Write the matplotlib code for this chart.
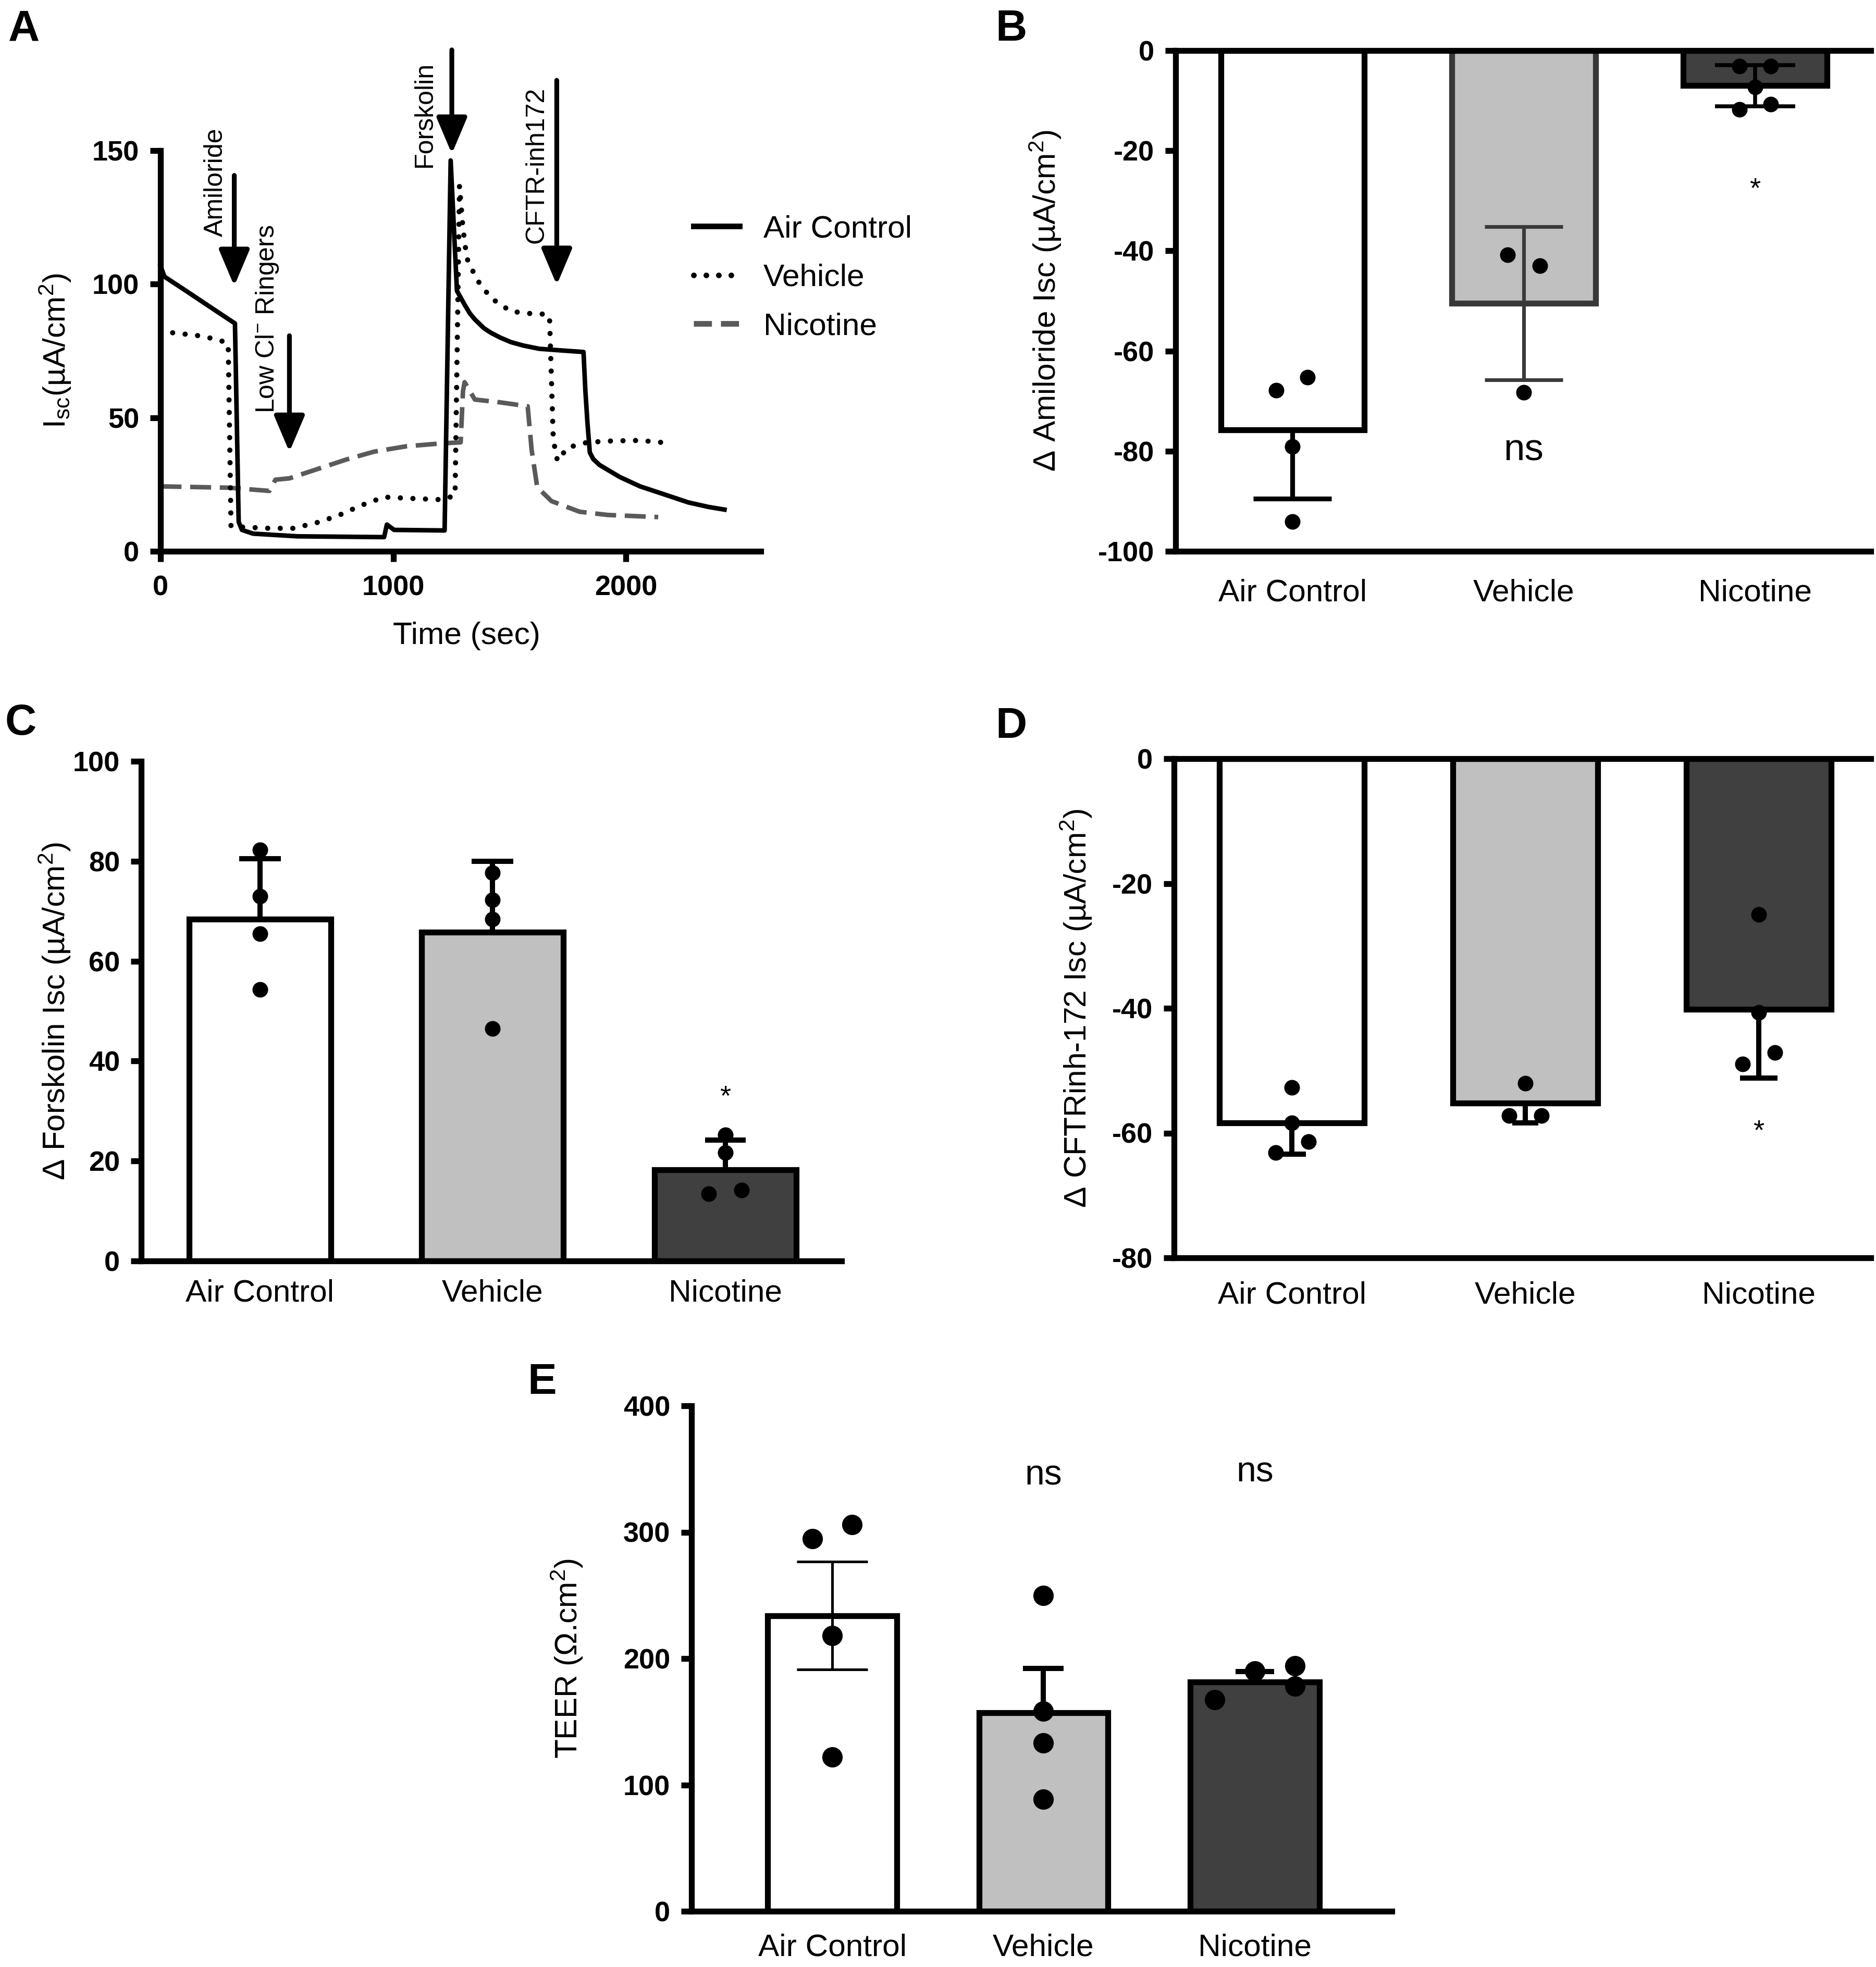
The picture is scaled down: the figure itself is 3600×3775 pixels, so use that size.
import matplotlib
matplotlib.use("Agg")
import matplotlib.pyplot as plt
import numpy as np
from matplotlib.lines import Line2D

plt.rcParams['font.family'] = ['Liberation Sans', 'DejaVu Sans']
plt.rcParams['mathtext.fontset'] = 'custom'
plt.rcParams['mathtext.rm'] = 'Liberation Sans'
plt.rcParams['mathtext.it'] = 'Liberation Sans:italic'
plt.rcParams['mathtext.bf'] = 'Liberation Sans:bold'
plt.rcParams['axes.unicode_minus'] = False

# ---------------- data ----------------
groups = ['Air Control', 'Vehicle', 'Nicotine']

# Panel A: short-circuit current traces
time_air = [0, 17, 87, 156, 242, 320, 336, 350, 398, 589, 961, 973, 1004, 1221, 1247,
            1274, 1290, 1307, 1330, 1351, 1390, 1420, 1460, 1506, 1560, 1628, 1720, 1818,
            1826, 1835, 1845, 1860, 1887, 1974, 2061, 2165, 2268, 2355, 2424]
isc_air = [106.8, 102.8, 98.8, 94.8, 89.8, 85.3, 11.0, 8.0, 6.6, 5.6, 5.3, 10.0, 8.0, 7.8, 146.3,
           97.5, 95.0, 92.3, 89.0, 86.8, 83.5, 81.8, 80.0, 78.3, 77.0, 75.8, 75.2, 74.6,
           60.0, 48.0, 37.0, 34.5, 32.3, 27.8, 24.3, 21.3, 18.3, 16.6, 15.6]

time_veh = [52, 156, 251, 291, 303, 364, 468, 571, 675, 762, 866, 961, 1074, 1212, 1261,
            1266, 1285, 1299, 1316, 1359, 1420, 1506, 1610, 1662, 1672, 1688, 1706, 1749,
            1835, 1939, 2061, 2173]
isc_veh = [81.8, 80.8, 79.2, 77.6, 9.3, 9.0, 8.6, 8.6, 10.8, 13.3, 17.3, 20.3, 19.8, 19.3, 20.8,
           21.0, 136.8, 121.8, 109.8, 101.8, 94.8, 89.8, 88.8, 88.8, 87.5, 41.8, 33.8, 38.8,
           40.8, 41.3, 41.5, 40.6]

time_nic = [0, 294, 468, 494, 554, 675, 797, 918, 1056, 1195, 1290, 1300, 1307, 1351, 1455,
            1578, 1595, 1619, 1680, 1801, 1922, 2139]
isc_nic = [24.3, 23.8, 22.6, 26.8, 27.3, 30.8, 34.3, 37.3, 39.3, 40.3, 40.8, 60.0, 63.3, 56.8, 55.8,
           54.3, 38.0, 24.0, 18.8, 14.8, 13.6, 12.8]

trace_labels = ['Air Control', 'Vehicle', 'Nicotine']
additions = ['Amiloride', 'Low Cl$^{-}$ Ringers', 'Forskolin', 'CFTR-inh172']
addition_times = [317, 554, 1252, 1703]

# Panel B: amiloride-sensitive Isc
amil_mean = [-75.8, -50.5, -7.0]
amil_err_lo = [13.7, 15.3, 4.1]
amil_err_hi = [0.0, 15.3, 4.1]
amil_points = [[-67.8, -65.2, -79.1, -94.1],
               [-40.8, -43.0, -68.3],
               [-3.1, -3.1, -7.3, -11.8, -10.7]]
amil_jitter = [[-0.07, 0.065, 0, 0], [-0.07, 0.07, 0], [-0.068, 0.068, 0, -0.068, 0.068]]

# Panel C: forskolin-stimulated Isc
forsk_mean = [68.4, 65.8, 18.2]
forsk_err = [12.1, 14.2, 6.0]
forsk_points = [[82.3, 73.0, 65.5, 54.3],
                [77.7, 72.3, 68.4, 46.5],
                [25.2, 21.7, 13.4, 14.2]]
forsk_jitter = [[0, 0, 0, 0], [0, 0, 0, 0], [0, 0, -0.07, 0.07]]

# Panel D: CFTRinh-172-sensitive Isc
cftr_mean = [-58.4, -55.2, -40.2]
cftr_err = [5.0, 3.2, 11.0]
cftr_points = [[-52.7, -58.4, -61.4, -63.1],
               [-52.0, -57.2, -57.2],
               [-25.0, -40.7, -47.1, -48.9]]
cftr_jitter = [[0, 0, 0.07, -0.07], [0, -0.07, 0.07], [0, 0, 0.07, -0.07]]

# Panel E: TEER
teer_mean = [234.0, 157.0, 181.5]
teer_err_lo = [42.7, 0.0, 0.0]
teer_err_hi = [42.7, 35.0, 8.0]
teer_points = [[295.0, 305.9, 218.3, 122.0],
               [249.8, 158.4, 133.3, 88.5],
               [167.5, 190.2, 194.1, 178.2]]
teer_jitter = [[-0.094, 0.094, 0, 0], [0, 0, 0, 0], [-0.19, 0, 0.19, 0.19]]

# ---------------- figure ----------------
W, H = 3600, 3775
fig = plt.figure(figsize=(W / 300, H / 300), dpi=300)


def rect(l, t, r, b):
    return [l / W, 1 - b / H, (r - l) / W, (b - t) / H]


PX = 72 / 300.0
SPINE = 2.7
TICK_FS = 13
LAB_FS = 14.5
fills = ['white', '#c0c0c0', '#404040']


def style(ax, top=False):
    for s in ['left', 'bottom', 'top']:
        ax.spines[s].set_linewidth(SPINE)
    ax.spines['right'].set_visible(False)
    ax.spines['top'].set_visible(top)
    ax.tick_params(axis='y', direction='out', length=20 * PX, width=SPINE, pad=5,
                   labelsize=TICK_FS)
    plt.setp(ax.get_yticklabels(), fontweight='bold')


def set_ylabel(ax, text, xc, rectpx):
    l, t, r, b = rectpx
    ax.set_ylabel(text, fontsize=LAB_FS)
    ax.yaxis.set_label_coords((xc - l) / (r - l), 0.5)
    ax.yaxis.label.set_va('center')


def bar_panel(rectpx, means, lo, hi, points, jitter, ylim, yticks, xlim, width,
              ylabel, ylabel_x, xpad, ms, edgecolors, ecolors, elw, caps, top=False):
    ax = fig.add_axes(rect(*rectpx))
    x = np.arange(len(groups))
    ax.bar(x, means, width=width, color=fills, edgecolor=edgecolors, linewidth=SPINE,
           zorder=2)
    for i in range(len(groups)):
        ax.errorbar(x[i], means[i], yerr=[[lo[i]], [hi[i]]], fmt='none', ecolor=ecolors[i],
                    elinewidth=elw[i], capsize=caps[i], capthick=elw[i], zorder=3)
        ax.plot(x[i] + np.array(jitter[i]), points[i], 'o', color='black', ms=ms,
                markeredgewidth=0, zorder=4, clip_on=False)
    ax.set_xlim(*xlim)
    ax.set_ylim(*ylim)
    ax.set_yticks(yticks)
    ax.set_xticks(x)
    ax.set_xticklabels(groups, fontsize=LAB_FS)
    ax.tick_params(axis='x', length=0, pad=xpad)
    style(ax, top=top)
    set_ylabel(ax, ylabel, ylabel_x, rectpx)
    return ax


# ---------- Panel A ----------
rA = (308, 289, 1460, 1058)
axA = fig.add_axes(rect(*rA))
axA.plot(time_air, isc_air, color='black', lw=2.1, solid_joinstyle='round', clip_on=False,
         zorder=3)
axA.plot(time_veh, isc_veh, color='black', lw=2.4, linestyle=(0, (0.01, 2.4)),
         dash_capstyle='round', clip_on=False, zorder=3)
axA.plot(time_nic, isc_nic, color='#5a5a5a', lw=2.1, linestyle=(0, (4.6, 1.9)),
         clip_on=False, zorder=2)
axA.set_xlim(0, 2580)
axA.set_ylim(0, 150)
axA.set_xticks([0, 1000, 2000])
axA.set_yticks([0, 50, 100, 150])
axA.tick_params(axis='x', direction='out', length=20 * PX, width=SPINE, pad=6,
                labelsize=TICK_FS)
style(axA)
plt.setp(axA.get_xticklabels(), fontweight='bold')
set_ylabel(axA, 'I$_{\\mathrm{sc}}$(µA/cm$^{2}$)', 106, rA)
axA.set_xlabel('Time (sec)', fontsize=LAB_FS)
axA.xaxis.set_label_coords(0.51, -0.176)
axA.xaxis.label.set_va('top')

arrow_tails = [140.7, 80.7, 187.7, 176.3]
arrow_tips = [99.3, 37.2, 148.8, 99.7]
text_x = [238, 459, 1135, 1616]
text_bottom = [117.8, 51.7, 143.8, 115.3]
for name, t, y0, y1, tx, tb in zip(additions, addition_times, arrow_tails, arrow_tips,
                                   text_x, text_bottom):
    axA.annotate('', xy=(t, y1), xytext=(t, y0), annotation_clip=False,
                 arrowprops=dict(arrowstyle='-|>,head_length=0.71,head_width=0.3',
                                 mutation_scale=20, lw=2.2, color='black',
                                 shrinkA=0, shrinkB=0))
    axA.text(tx, tb, name, rotation=90, ha='center', va='bottom', fontsize=12,
             clip_on=False)

handles = [Line2D([], [], color='black', lw=2.6),
           Line2D([], [], color='black', lw=2.6, linestyle=(0, (0.01, 2.2)),
                  dash_capstyle='round'),
           Line2D([], [], color='#5a5a5a', lw=2.6, linestyle=(0, (3.2, 1.6)))]
fig.legend(handles, trace_labels, loc='upper left', bbox_to_anchor=(1331 / W, 1 - 412 / H),
           bbox_transform=fig.transFigure, frameon=False, fontsize=LAB_FS,
           handlelength=1.46, handletextpad=0.76, labelspacing=0.64, borderpad=0,
           borderaxespad=0)

# ---------- Panel B ----------
rB = (2256, 97, 3590, 1058)
axB = bar_panel(rB, amil_mean, amil_err_lo, amil_err_hi, amil_points, amil_jitter,
                (-100, 0), [-100, -80, -60, -40, -20, 0], (-0.505, 2.5), 0.62,
                'Δ Amiloride Isc (µA/cm$^{2}$)', 2006, 12.5, 7.2,
                ['black', '#383838', 'black'], ['black', '#3a3a3a', 'black'],
                [2.2, 1.7, 1.8], [18, 18, 18.5], top=True)
axB.text(1, -81.8, 'ns', ha='center', va='baseline', fontsize=17.5)
axB.text(2, -29.3, '*', ha='center', va='baseline', fontsize=13)

# ---------- Panel C ----------
rC = (271, 1461, 1615, 2420)
axC = bar_panel(rC, forsk_mean, [0, 0, 0], forsk_err, forsk_points, forsk_jitter,
                (0, 100), [0, 20, 40, 60, 80, 100], (-0.51, 2.5), 0.61,
                'Δ Forskolin Isc (µA/cm$^{2}$)', 105, 8.4, 7.2,
                ['black', 'black', 'black'], ['black', 'black', 'black'],
                [2.4, 2.4, 2.4], [9.6, 9.7, 9.4])
axC.text(2, 31.3, '*', ha='center', va='baseline', fontsize=13)

# ---------- Panel D ----------
rD = (2253, 1456, 3590, 2414)
axD = bar_panel(rD, cftr_mean, cftr_err, [0, 0, 0], cftr_points, cftr_jitter,
                (-80, 0), [-80, -60, -40, -20, 0], (-0.505, 2.48), 0.62,
                'Δ CFTRinh-172 Isc (µA/cm$^{2}$)', 2065, 10.8, 7.2,
                ['black', 'black', 'black'], ['black', 'black', 'black'],
                [2.4, 2.4, 2.4], [6.5, 6.0, 8.6], top=True)
axD.text(2, -61.0, '*', ha='center', va='baseline', fontsize=13)

# ---------- Panel E ----------
rE = (1327, 2698, 2671, 3668)
axE = bar_panel(rE, teer_mean, teer_err_lo, teer_err_hi, teer_points, teer_jitter,
                (0, 400), [0, 100, 200, 300, 400], (-0.666, 2.649), 0.61,
                'TEER (Ω.cm$^{2}$)', 1088, 10.3, 9.4,
                ['black', 'black', 'black'], ['black', 'black', 'black'],
                [1.2, 2.4, 2.4], [16.4, 9.4, 8.8])
axE.text(1, 337.5, 'ns', ha='center', va='baseline', fontsize=16.3)
axE.text(2, 340.0, 'ns', ha='center', va='baseline', fontsize=16.3)

# ---------- panel letters ----------
for letter, (x, yb) in zip('ABCDE', [(46, 78), (1941, 78), (40, 1410), (1941, 1416),
                                     (1040, 2675)]):
    fig.text(x / W, 1 - yb / H, letter, fontsize=20, fontweight='bold', ha='center',
             va='baseline')

fig.savefig('out.png', dpi=300)
